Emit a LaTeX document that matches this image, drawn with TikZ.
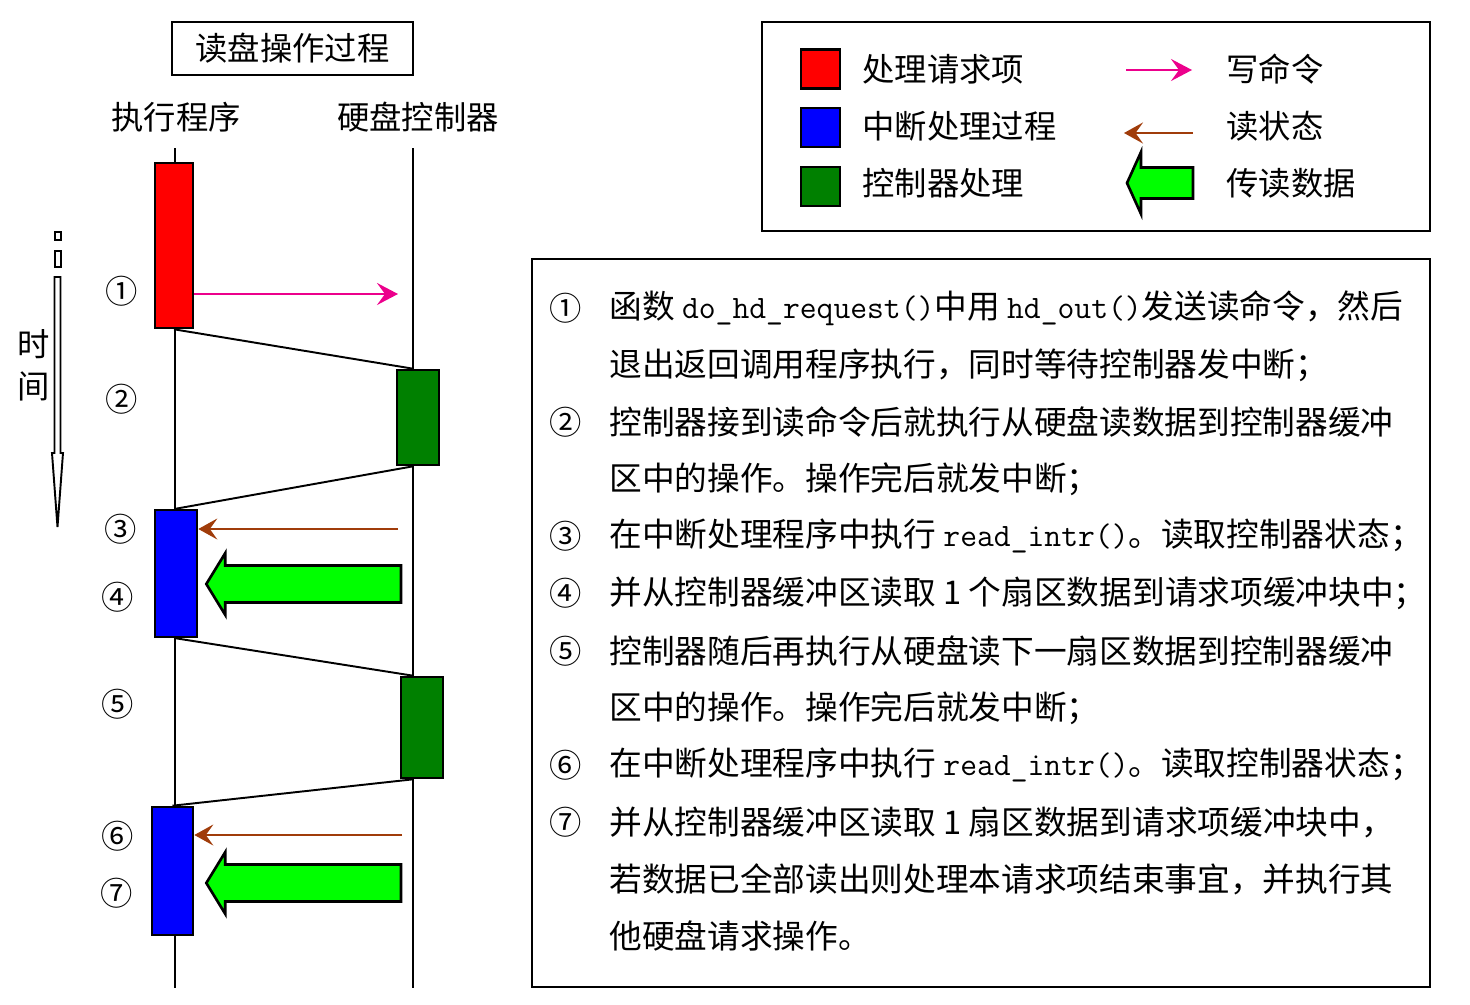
\documentclass[tikz,border=0pt]{standalone}
\usepackage{fontspec}
\setmainfont{Noto Sans CJK SC}
\usepackage{xcolor}
\usetikzlibrary{arrows.meta,calc}

\definecolor{ctlgreen}{RGB}{0,128,0}
\definecolor{datagreen}{RGB}{0,255,0}
\definecolor{stbrown}{RGB}{160,60,10}

% tail, tip, head length, shaft half height, head half height
\newcommand\fatarrow[5]{%
  \draw[dataarr] (#2) -- ($(#2)+(#3,-#5)$) -- ($(#2)+(#3,-#4)$) -- ($(#1)+(0,-#4)$)
    -- ($(#1)+(0,#4)$) -- ($(#2)+(#3,#4)$) -- ($(#2)+(#3,#5)$) -- cycle;}

\begin{document}
\begin{tikzpicture}[x=0.02cm, y=-0.02cm,
  every node/.style={font=\fontsize{18.4pt}{22pt}\selectfont, inner sep=0pt},
  note/.style={anchor=west, font=\fontsize{18.6pt}{22pt}\selectfont},
  frame/.style={draw, line width=1.1pt},
  blk/.style={draw, line width=1.5pt, minimum width=0.84cm},
  key/.style={draw, line width=1.5pt, minimum size=0.78cm},
  life/.style={line width=1.1pt},
  link/.style={line width=1.1pt},
  writearr/.style={-{Stealth[length=4.2mm,width=4.4mm,inset=1.6mm]}, draw=magenta, line width=1.3pt},
  readarr/.style={-{Stealth[length=3.8mm,width=4.2mm,inset=1.5mm]}, draw=stbrown, line width=1.3pt},
  dataarr/.style={draw, fill=datagreen, line width=1.5pt, line join=miter}
]
\useasboundingbox (0,0) rectangle (1470,1004);

\node[frame, minimum width=4.82cm, minimum height=1.06cm] (title) at (292.5,48.5) {读盘操作过程};
\node (exe) at (176,117) {执行程序};
\node (hdc) at (418,117) {硬盘控制器};

\coordinate (ltop) at (175,148); \coordinate (lbot) at (175,988);
\coordinate (rtop) at (413,148); \coordinate (rbot) at (413,988);
\draw[life] (ltop) -- (lbot);
\draw[life] (rtop) -- (rbot);

\node[blk, fill=red, minimum width=0.76cm, minimum height=3.3cm] (req) at (174,245.5) {};
\node[blk, fill=ctlgreen, minimum height=1.9cm] (g1) at (418,417.5) {};
\node[blk, fill=blue, minimum height=2.54cm] (b1) at (176,573.5) {};
\node[blk, fill=ctlgreen, minimum height=2.02cm] (g2) at (422,727.5) {};
\node[blk, fill=blue, minimum width=0.82cm, minimum height=2.56cm] (b2) at (172.5,871) {};

\draw[link] (req.south) -- (g1.north -| rtop);
\draw[link] (g1.south -| rtop) -- (b1.north);
\draw[link] (b1.south) -- (g2.north -| rtop);
\draw[link] (g2.south -| rtop) -- (b2.north);

\coordinate (w1) at (398,294);
\draw[writearr] (req.east |- w1) -- (w1);
\coordinate (s1) at (398,529);
\draw[readarr] (s1) -- (s1 -| b1.east);
\coordinate (s2) at (402,835);
\draw[readarr] (s2) -- (s2 -| b2.east);

\coordinate (dat1) at (401,584);
\coordinate (tip1) at ($(dat1 -| b1.east)+(8,0)$);
\fatarrow{dat1}{tip1}{19}{18.5}{31}
\coordinate (dat2) at (401,883);
\coordinate (tip2) at ($(dat2 -| b2.east)+(12,0)$);
\fatarrow{dat2}{tip2}{19}{18.5}{31}

\node (c1) at (122,291) {①};
\node (c2) at (122,399) {②};
\node (c3) at (121,529) {③};
\node (c4) at (118,597) {④};
\node (c5) at (118,704) {⑤};
\node (c6) at (118,836) {⑥};
\node (c7) at (117,893) {⑦};

\draw[line width=1.1pt, fill=white] (55,232) rectangle (61,240);
\draw[line width=1.1pt, fill=white] (55,251) rectangle (61,267);
\draw[line width=1.1pt, fill=white] (54.5,277) -- (54.5,453) -- (52,453) -- (57.5,527)
  -- (63,453) -- (60.5,453) -- (60.5,277) -- cycle;
\node (ts) at (34,344) {时};
\node (tj) at (34,386) {间};

\draw[frame] (762,22) rectangle (1430,231);
\node[key, fill=red] (kreq) at (820.5,69) {};
\node[key, fill=blue] (kint) at (820.5,127.5) {};
\node[key, fill=ctlgreen] (kctl) at (820.5,186.5) {};
\node[anchor=west] (lreq) at (862,69) {处理请求项};
\node[anchor=west] (lint) at (862,126) {中断处理过程};
\node[anchor=west] (lctl) at (862,183) {控制器处理};
\node[anchor=west] (lwr) at (1226,69) {写命令};
\node[anchor=west] (lrd) at (1226,126) {读状态};
\node[anchor=west] (ldat) at (1226,183) {传读数据};
\coordinate (kw1) at (1126,70); \coordinate (kw2) at (1192,70);
\draw[writearr] (kw1) -- (kw2);
\coordinate (kr1) at (1193,133); \coordinate (kr2) at (1124,133);
\draw[readarr] (kr1) -- (kr2);
\coordinate (kd1) at (1193,183); \coordinate (kd2) at (1127,183);
\fatarrow{kd1}{kd2}{14}{15.5}{31}

\draw[frame] (532,259) rectangle (1430,987);
\node (n1) at (566,308) {①};
\node (n2) at (566,422) {②};
\node (n3) at (566,536) {③};
\node (n4) at (566,593) {④};
\node (n5) at (566,651) {⑤};
\node (n6) at (566,765) {⑥};
\node (n7) at (566,822) {⑦};
\node[note] (t1) at (609,308) {函数 \texttt{do\_hd\_request()}中用 \texttt{hd\_out()}发送读命令，然后};
\node[note] (t2) at (609,365) {退出返回调用程序执行，同时等待控制器发中断；};
\node[note] (t3) at (609,422) {控制器接到读命令后就执行从硬盘读数据到控制器缓冲};
\node[note] (t4) at (609,479) {区中的操作。操作完后就发中断；};
\node[note] (t5) at (609,536) {在中断处理程序中执行 \texttt{read\_intr()}。读取控制器状态；};
\node[note] (t6) at (609,593) {并从控制器缓冲区读取 1 个扇区数据到请求项缓冲块中；};
\node[note] (t7) at (609,651) {控制器随后再执行从硬盘读下一扇区数据到控制器缓冲};
\node[note] (t8) at (609,708) {区中的操作。操作完后就发中断；};
\node[note] (t9) at (609,765) {在中断处理程序中执行 \texttt{read\_intr()}。读取控制器状态；};
\node[note] (t10) at (609,822) {并从控制器缓冲区读取 1 扇区数据到请求项缓冲块中，};
\node[note] (t11) at (609,879) {若数据已全部读出则处理本请求项结束事宜，并执行其};
\node[note] (t12) at (609,936) {他硬盘请求操作。};
\end{tikzpicture}
\end{document}
